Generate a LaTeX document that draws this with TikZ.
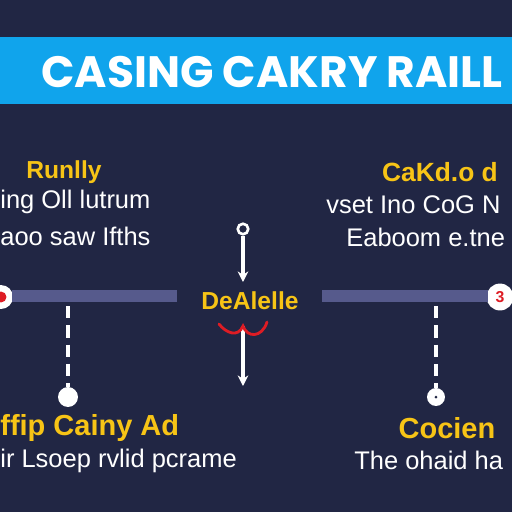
\documentclass[tikz,border=0pt]{standalone}
\usepackage{fontspec}
\setmainfont{Liberation Sans}
\newfontfamily\titlefont{Poppins}
\usepackage{tikz}
\usetikzlibrary{arrows.meta}
\definecolor{navy}{RGB}{33,38,68}
\definecolor{banner}{RGB}{16,164,236}
\definecolor{rail}{RGB}{86,90,140}
\definecolor{gold}{RGB}{247,196,22}
\definecolor{redmark}{RGB}{222,28,36}

\begin{document}
\begin{tikzpicture}[x=0.02cm, y=-0.02cm,
  every node/.style={inner sep=0pt},
  head/.style={text=gold, font=\fontsize{14}{14}\selectfont\bfseries},
  body/.style={text=white, font=\fontsize{14.5}{15}\selectfont},
  dot/.style={circle, fill=white, minimum size=#1},
  dashline/.style={white, line width=2.2pt, dash pattern=on 7pt off 4pt}]
% Background
\fill[navy] (0,0) rectangle (512,512);
\useasboundingbox (0,0) rectangle (512,512);
\fill[banner] (0,37) rectangle (512,104);
\node[text=white, font=\titlefont\fontsize{25}{25}\selectfont\bfseries] (title) at (272,72) {CASING CAKRY RAILL};

% Texts
\node[head] (lhead) at (64,172) {Runlly};
\node[body, anchor=west] (l1) at (0,202) {ing Oll lutrum};
\node[body, anchor=west] (l2) at (0,236) {aoo saw Ifths};
\node[head, font=\fontsize{15}{15}\selectfont\bfseries] (rhead) at (440,172) {CaKd.o d};
\node[body, anchor=west] (r1) at (326,205) {vset Ino CoG N};
\node[body, anchor=west] (r2) at (346,237) {Eaboom e.tne};
\node[head] (mid) at (250,301) {DeAlelle};
\node[head, font=\fontsize{16.5}{16}\selectfont\bfseries, anchor=west] (bl) at (0,428) {ffip Cainy Ad};
\node[body, anchor=west] (b1) at (0,461) {ir Lsoep rvlid pcrame};
\node[head, font=\fontsize{16.5}{16}\selectfont\bfseries] (br) at (447,428) {Cocien};
\node[body, anchor=west] (b2) at (354,460) {The ohaid ha};

% Points
\node[dot=24pt*0.567] (lend) at (1,297) {};
\node[circle, fill=redmark, minimum size=11pt*0.567] at (lend) {};
\node[dot=27pt*0.567] (rend) at (500,297) {};
\node[text=redmark, font=\fontsize{9}{9}\selectfont\bfseries] at (rend) {3};
\node[dot=20pt*0.567] (ldot) at (68,397) {};
\node[dot=18pt*0.567] (rdot) at (436,397) {};
\fill[navy] (rdot) circle (1.5);
\coordinate (ltop) at (68,306);
\coordinate (rtop) at (436,306);
\node[circle, draw=white, line width=1.5pt, minimum size=6pt] (ctop) at (243,229) {};
\coordinate (cmid) at (243,282);
\coordinate (cbot) at (243,326);
\coordinate (cend) at (243,386);

%Lines
\fill[rail] (12,290) rectangle (177,302);
\fill[rail] (322,290) rectangle (488,302);
\draw[dashline] (ltop) -- (ldot);
\draw[dashline] (rtop) -- (rdot);
\draw[white, line width=1.8pt, -{Stealth[length=6pt, width=6pt]}] (ctop) -- (cmid);
\draw[white, line width=2pt, -{Stealth[length=6pt, width=6pt]}] (cbot) -- (cend);
\draw[redmark, line width=1.6pt, line cap=round] (219,324) .. controls (226,333) and (238,338) .. (243,326) .. controls (247,338) and (262,338) .. (267,322);
\end{tikzpicture}
\end{document}
